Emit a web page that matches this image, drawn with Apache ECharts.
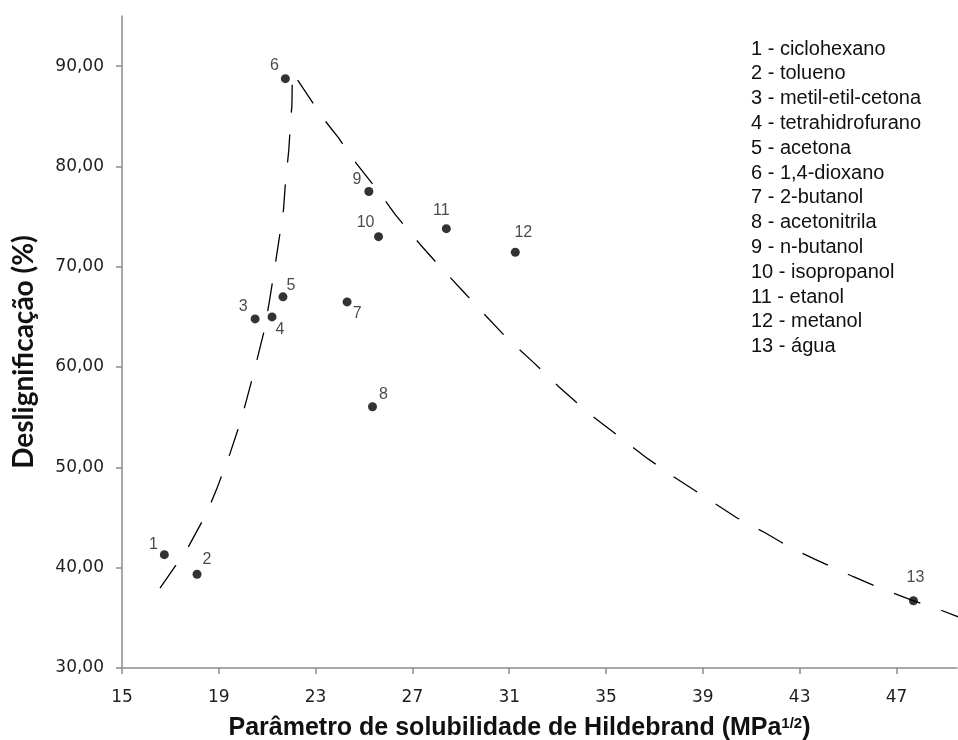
<!DOCTYPE html>
<html>
<head>
<meta charset="utf-8">
<script src="https://cdn.jsdelivr.net/npm/echarts@6/dist/echarts.min.js"></script>
<style>
  html, body { margin: 0; padding: 0; background: #fff; }
  #chart { width: 958px; height: 740px; }
</style>
</head>
<body>
<div id="chart"></div>
<script>
// Solvents, numbered 1..13 in the list on the right
const solventNames = ['ciclohexano', 'tolueno', 'metil-etil-cetona', 'tetrahidrofurano', 'acetona',
  '1,4-dioxano', '2-butanol', 'acetonitrila', 'n-butanol', 'isopropanol', 'etanol', 'metanol', 'água'];
// Hildebrand solubility parameter (MPa^1/2)
const solubility = [16.75, 18.1, 20.5, 21.2, 21.65, 21.75, 24.3, 25.35, 25.2, 25.6, 28.4, 31.25, 47.7];
// Delignification (%)
const delignification = [41.3, 39.35, 64.8, 65.0, 67.0, 88.75, 66.5, 56.05, 77.5, 73.0, 73.8, 71.45, 36.7];

// Trend curve (dashed)
const fitX = [16.57, 17.23, 17.74, 18.51, 18.95, 19.46, 19.9, 20.16, 20.43, 20.87, 21.1, 21.32, 21.5, 21.67,
  21.75, 21.89, 21.97, 22.02, 22.04, 22.63, 23.29, 23.94, 24.69, 25.6, 26.3, 27.31, 28.17, 29.1, 29.96,
  30.9, 32.0, 33.07, 34.4, 35.58, 36.64, 37.92, 39.09, 40.4, 41.57, 42.64, 43.64, 45.22, 46.32, 47.71,
  48.83, 49.55];
const fitY = [37.96, 40.25, 42.07, 45.5, 48.08, 51.37, 54.56, 56.85, 59.3, 63.56, 66.7, 70.03, 72.9, 75.6,
  78.3, 81.6, 84.6, 86.1, 89.4, 87.26, 84.86, 82.87, 80.28, 77.5, 75.17, 72.25, 69.93, 67.54, 65.29,
  62.9, 60.47, 57.99, 55.17, 53.0, 51.01, 48.86, 47.04, 44.98, 43.48, 41.98, 40.83, 39.1, 37.96, 36.7,
  35.77, 35.1];

// Axis tick values
const xTicks = [15, 19, 23, 27, 31, 35, 39, 43, 47];
const yTicks = [30, 40, 50, 60, 70, 80, 90];

// Where each point number sits relative to its marker (px)
const numberOffsets = [[-11, -10], [10, -15], [-12, -12], [8, 13], [8, -11], [-11, -13], [10, 12],
  [11, -12], [-12, -12], [-13, -14], [-5, -18], [8, -20], [2, -23]];

const axisGray = '#8c8c8c';
const chart = echarts.init(document.getElementById('chart'), null, { renderer: 'canvas' });

const points = solubility.map((x, i) => ({
  value: [x, delignification[i]],
  label: { offset: numberOffsets[i] }
}));

chart.setOption({
  animation: false,
  backgroundColor: '#ffffff',
  grid: { left: 122, right: 1, top: 16, bottom: 72, containLabel: false, outerBoundsMode: 'none' },
  xAxis: {
    type: 'value',
    min: 15,
    max: 49.5,
    name: '{t|Parâmetro de solubilidade de Hildebrand (MPa}{s|1/2}{t|)}',
    nameLocation: 'middle',
    nameGap: 48,
    nameTextStyle: {
      padding: [0, 40, 0, 0],
      rich: {
        t: { fontFamily: 'Liberation Sans, Arial', fontWeight: 'bold', fontSize: 25, color: '#111' },
        s: { fontFamily: 'Liberation Sans, Arial', fontWeight: 'bold', fontSize: 15, color: '#111', verticalAlign: 'top', padding: [0, 0, 10, 0] }
      }
    },
    splitLine: { show: false },
    axisLine: { lineStyle: { color: axisGray, width: 1.5 } },
    axisTick: { show: true, length: 6, customValues: xTicks, lineStyle: { color: axisGray, width: 1.5 } },
    axisLabel: {
      customValues: xTicks,
      margin: 21,
      fontFamily: 'DejaVu Sans',
      fontSize: 17,
      color: '#1e1e1e'
    }
  },
  yAxis: {
    type: 'value',
    min: 30,
    max: 95,
    name: 'Deslignificação (%)',
    nameLocation: 'middle',
    nameGap: 84,
    nameTextStyle: { fontFamily: 'Lato', fontWeight: 'bold', fontSize: 28, color: '#111', padding: [0, 20, 0, 0] },
    splitLine: { show: false },
    axisLine: { show: true, lineStyle: { color: axisGray, width: 1.5 } },
    axisTick: { show: true, length: 6, customValues: yTicks, lineStyle: { color: axisGray, width: 1.5 } },
    axisLabel: {
      customValues: yTicks,
      margin: 18,
      fontFamily: 'DejaVu Sans',
      fontSize: 17,
      color: '#1e1e1e',
      formatter: v => v.toFixed(2).replace('.', ',')
    }
  },
  graphic: [{
    type: 'text',
    left: 751,
    top: 36.6,
    style: {
      text: solventNames.map((n, i) => (i + 1) + ' - ' + n).join('\n'),
      font: '20px "Liberation Sans", Arial, sans-serif',
      lineHeight: 24.8,
      fill: '#111'
    }
  }],
  series: [
    {
      type: 'line',
      data: fitX.map((x, i) => [x, fitY[i]]),
      showSymbol: false,
      symbol: 'none',
      lineStyle: { color: '#000', width: 1.3, type: [28, 22] },
      z: 1,
      silent: true
    },
    {
      type: 'scatter',
      data: points,
      symbol: 'circle',
      symbolSize: 9,
      itemStyle: { color: '#000' },
      label: {
        show: true,
        position: 'inside',
        formatter: p => String(p.dataIndex + 1),
        fontFamily: 'Liberation Sans, Arial',
        fontSize: 16,
        color: '#1a1a1a'
      },
      z: 3
    }
  ]
});
</script>
</body>
</html>
